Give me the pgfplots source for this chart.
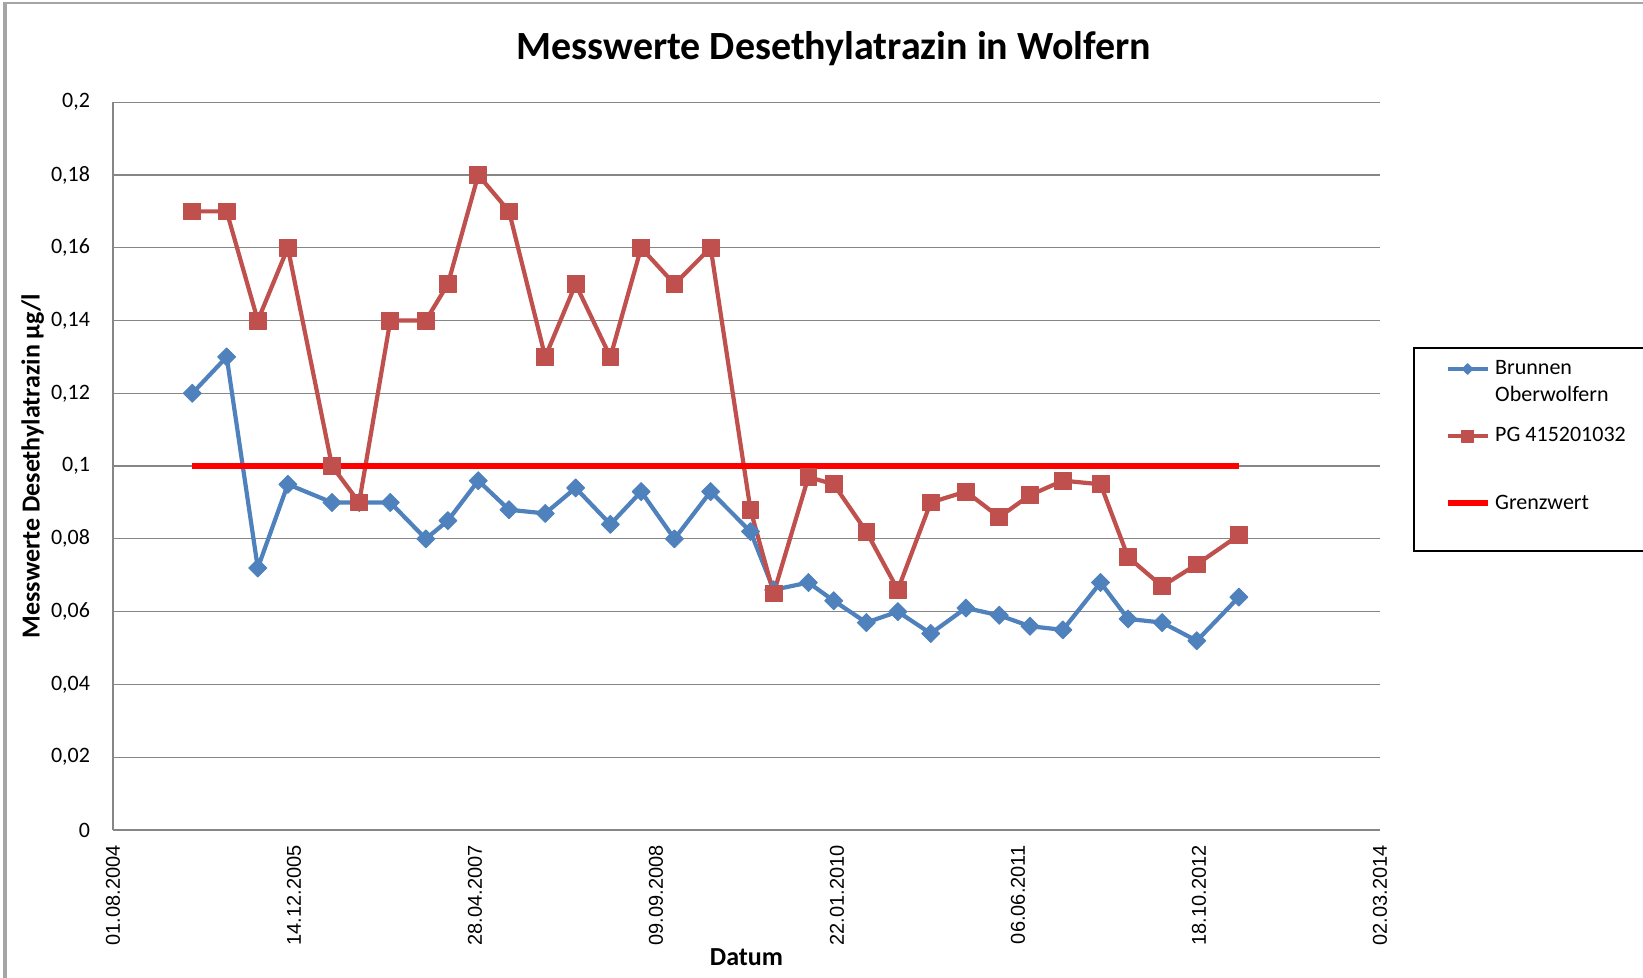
\documentclass[border=0pt]{standalone}
\usepackage{pgfplots}
\pgfplotsset{compat=1.18}
\usepackage{fontspec}
\setmainfont{Carlito}
\newfontfamily\arialfont{Liberation Sans}
\definecolor{xlblue}{RGB}{79,129,189}
\definecolor{xlred}{RGB}{192,80,77}
\definecolor{gridgray}{RGB}{134,134,134}
\definecolor{framegray}{RGB}{165,165,165}
\begin{document}
\begin{tikzpicture}
\path[use as bounding box, fill=white] (0,0) rectangle (821.5pt,489pt);
\draw[framegray, line width=2pt] (2.6pt,0) -- (2.6pt,487.3pt);
\draw[framegray, line width=1pt] (1.6pt,487.3pt) -- (821.5pt,487.3pt);
\begin{axis}[
  at={(56.5pt,74pt)}, anchor=south west,
  scale only axis, width=633.5pt, height=363.9pt,
  xmin=0, xmax=3500, ymin=0, ymax=0.2,
  axis x line*=bottom, axis y line*=left,
  axis line style={gridgray, line width=0.6pt},
  ymajorgrids, grid style={gridgray, line width=0.6pt},
  major tick length=0pt,
  xtick={0,500,1000,1500,2000,2500,3000,3500},
  xticklabels={01.08.2004,14.12.2005,28.04.2007,09.09.2008,22.01.2010,06.06.2011,18.10.2012,02.03.2014},
  ytick={0,0.02,0.04,0.06,0.08,0.1,0.12,0.14,0.16,0.18,0.2},
  /pgf/number format/assume math mode=true,
  yticklabel style={/pgf/number format/fixed, /pgf/number format/precision=2,
    /pgf/number format/use comma, font=\fontsize{11}{13}\selectfont,
    anchor=east, inner sep=0pt, xshift=-11.3pt},
  xticklabel style={font=\arialfont\fontsize{10}{12}\selectfont, rotate=90,
    anchor=east, inner sep=0pt},
  xticklabel shift=7.5pt,
  title={Messwerte Desethylatrazin in Wolfern},
  every axis title/.style={at={(axis description cs:0.569,1.0589)}, anchor=base,
    font=\bfseries\fontsize{20}{24}\selectfont},
  xlabel={Datum},
  xlabel style={at={(axis description cs:0.5,-0.1855)}, anchor=base,
    font=\bfseries\fontsize{13}{15}\selectfont},
  ylabel={Messwerte Desethylatrazin µg/l},
  every axis y label/.style={at={(axis description cs:-0.0634,0.5)}, rotate=90,
    anchor=center, font=\bfseries\fontsize{13}{15}\selectfont},
  legend style={at={(axis description cs:1.02605,0.66364)}, anchor=north west,
    draw=black, line width=1pt, fill=white, inner xsep=15.5pt, inner ysep=4.5pt,
    row sep=8pt, column sep=2.5pt,
    cells={anchor=base west},
    nodes={inner sep=0pt, text height=9pt, text depth=16.5pt,
      font=\fontsize{11}{13.5}\selectfont}},
  legend image code/.code={\draw[mark repeat=2,mark phase=2] plot coordinates {(0pt,0pt) (10pt,0pt) (20pt,0pt)};},
]
\addplot[xlblue, line width=2.1pt, line join=round, mark=square*, mark size=3.2pt,
  mark options={rotate=45, line width=0.4pt, fill=xlblue},
  legend image post style={mark size=1.9pt, yshift=3pt}] table {
x y
219 0.12
314 0.13
400 0.072
483 0.095
605 0.09
680 0.09
766 0.09
864 0.08
925 0.085
1009 0.096
1094 0.088
1194 0.087
1278 0.094
1374 0.084
1459 0.093
1551 0.08
1651 0.093
1761 0.082
1825 0.066
1921 0.068
1991 0.063
2081 0.057
2168 0.06
2259 0.054
2356 0.061
2448 0.059
2533 0.056
2624 0.055
2728 0.068
2804 0.058
2898 0.057
2994 0.052
3110 0.064
};
\addlegendentry{{\begin{tabular}[t]{@{}l@{}}Brunnen\\Oberwolfern\end{tabular}}}
\addplot[xlred, line width=2.1pt, line join=round, mark=square*, mark size=4.2pt,
  mark options={line width=0.4pt, fill=xlred},
  legend image post style={mark size=3pt, yshift=3pt}] table {
x y
219 0.17
314 0.17
400 0.14
483 0.16
605 0.10
680 0.09
766 0.14
864 0.14
925 0.15
1009 0.18
1094 0.17
1194 0.13
1278 0.15
1374 0.13
1459 0.16
1551 0.15
1651 0.16
1761 0.088
1825 0.065
1921 0.097
1991 0.095
2081 0.082
2168 0.066
2259 0.09
2356 0.093
2448 0.086
2533 0.092
2624 0.096
2728 0.095
2804 0.075
2898 0.067
2994 0.073
3110 0.081
};
\addlegendentry{PG 415201032}
\addplot[red, line width=2.6pt, mark=none, legend image post style={yshift=3pt}]
  coordinates {(219,0.1) (3110,0.1)};
\addlegendentry{\makebox[90pt][l]{Grenzwert}}
\end{axis}
\end{tikzpicture}
\end{document}
